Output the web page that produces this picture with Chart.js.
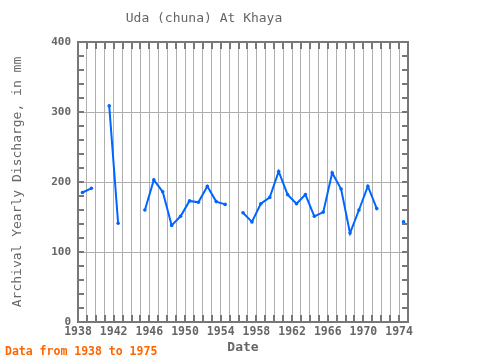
<!DOCTYPE html>
<html>
<head>
<meta charset="utf-8">
<script src="https://cdn.jsdelivr.net/npm/chart.js@4.4.1/dist/chart.umd.min.js"></script>
<style>
	html, body { margin: 0; padding: 0; background: #ffffff; }
	#wrap { width: 480px; height: 360px; }
</style>
</head>
<body>
<div id="wrap"><canvas id="canvasDischarge" width="480" height="360"></canvas></div>
<script>
"use strict";

// Uda (chuna) At Khaya - yearly discharge, gaps are missing years
var years = [1938, 1939, 1940, 1941, 1942, 1943, 1944, 1945, 1946, 1947,
	1948, 1949, 1950, 1951, 1952, 1953, 1954, 1955, 1956, 1957,
	1958, 1959, 1960, 1961, 1962, 1963, 1964, 1965, 1966, 1967,
	1968, 1969, 1970, 1971, 1972, 1973, 1974];
var discharge = [185, 191, null, 309, 141, null, null, 160, 203, 186,
	138, 151, 173, 171, 194, 172, 168, null, 156, 143,
	169, 178, 215, 182, 169, 182, 151, 157, 213, 190,
	127, 160, 194, 162, null, null, 143];
var xLabels = [1938, 1942, 1946, 1950, 1954, 1958, 1962, 1966, 1970, 1974];
var yLabels = [0, 100, 200, 300, 400];

var fontFamily = "'DejaVu Sans Mono', 'Liberation Mono', monospace";
var textColor = '#666666';
var frameColor = '#777777';

function $each(list, fn) {
	for (var i = 0; i < list.length; i++) {
		fn(i, list[i]);
	}
}

var points = [];
$each(years, function (index, year) {
	// values are yearly, plotted at mid-year
	points.push({ x: year + 0.5, y: discharge[index] });
});

// frame, inner tick marks and footer note
var framePlugin = {
	id: 'framePlugin',
	afterDraw: function (chart) {
		var ctx = chart.ctx;
		var area = chart.chartArea;
		var xs = chart.scales.x;
		var ys = chart.scales.y;
		ctx.save();
		ctx.strokeStyle = frameColor;
		ctx.lineWidth = 2;
		ctx.beginPath();
		for (var yr = years[0] + 1; yr <= years[years.length - 1]; yr++) {
			var px = Math.round(xs.getPixelForValue(yr));
			ctx.moveTo(px, area.top);
			ctx.lineTo(px, area.top + 7);
			ctx.moveTo(px, area.bottom);
			ctx.lineTo(px, area.bottom - 7);
		}
		for (var v = 20; v < 400; v += 20) {
			var py = Math.round(ys.getPixelForValue(v));
			ctx.moveTo(area.left, py);
			ctx.lineTo(area.left + 6, py);
			ctx.moveTo(area.right, py);
			ctx.lineTo(area.right - 6, py);
		}
		ctx.stroke();
		ctx.strokeRect(area.left, area.top, area.right - area.left, area.bottom - area.top);

		ctx.fillStyle = '#ff6600';
		ctx.font = 'bold 11.5px ' + fontFamily;
		ctx.textAlign = 'left';
		ctx.textBaseline = 'middle';
		ctx.fillText('Data from 1938 to 1975', 5, 352);
		ctx.restore();
	}
};

const context = document.getElementById('canvasDischarge');
const myChart = new Chart(context, {
	type: 'line',
	data: {
		datasets: [{
			label: 'Discharge',
			data: points,
			borderColor: 'rgb(0, 102, 255)',
			backgroundColor: 'rgb(0, 102, 255)',
			borderWidth: 2,
			pointRadius: 1.8,
			pointBorderWidth: 0,
			pointHoverRadius: 1.8,
			spanGaps: false,
			tension: 0
		}]
	},
	options: {
		responsive: false,
		animation: false,
		events: [],
		layout: {
			padding: { left: 0, right: 72, top: 0, bottom: 0 }
		},
		plugins: {
			legend: { display: false },
			tooltip: { enabled: false },
			title: {
				display: true,
				text: 'Uda (chuna) At Khaya',
				color: textColor,
				font: { family: fontFamily, size: 13, weight: 'normal', lineHeight: 1.2 },
				padding: { top: 11, bottom: 15.4 }
			}
		},
		scales: {
			x: {
				type: 'linear',
				min: 1938,
				max: 1975,
				afterFit: function (scale) { scale.height = 38; },
				grid: { color: '#b0b0b0', lineWidth: 1, drawTicks: false },
				border: { display: false },
				ticks: {
					stepSize: 1,
					autoSkip: false,
					maxRotation: 0,
					padding: 3,
					color: textColor,
					font: { family: fontFamily, size: 11.5, weight: 'bold' },
					callback: function (value) {
						return xLabels.indexOf(value) >= 0 ? String(value) : '';
					}
				},
				title: {
					display: true,
					text: 'Date',
					color: textColor,
					font: { family: fontFamily, size: 13, weight: 'bold' },
					padding: { top: 0, bottom: 5 }
				}
			},
			y: {
				min: 0,
				max: 400,
				afterFit: function (scale) { scale.width = 78; },
				grid: { color: '#b0b0b0', lineWidth: 1, drawTicks: false },
				border: { display: false },
				ticks: {
					stepSize: 100,
					padding: 7,
					color: textColor,
					font: { family: fontFamily, size: 11, weight: 'bold' },
					callback: function (value) {
						return yLabels.indexOf(value) >= 0 ? String(value) : '';
					}
				},
				title: {
					display: true,
					text: 'Archival Yearly Discharge, in mm',
					color: textColor,
					font: { family: fontFamily, size: 13, weight: 'normal' },
					padding: { top: 10, bottom: 0 }
				}
			}
		}
	},
	plugins: [framePlugin]
});
</script>
</body>
</html>
